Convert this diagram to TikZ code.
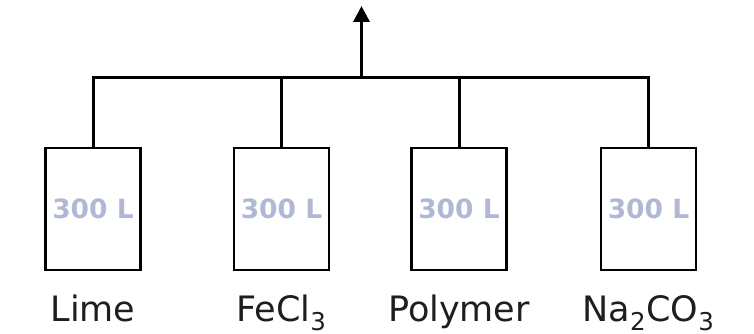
\documentclass[tikz,border=0pt]{standalone}
\usepackage{fontspec}
\setmainfont{DejaVu Sans}
\usetikzlibrary{arrows.meta}
\definecolor{TankText}{RGB}{176,184,214}
\definecolor{LabelGray}{RGB}{30,30,30}

\begin{document}
\begin{tikzpicture}[x=1pt, y=-1pt,
      tank/.style={rectangle, draw=black, line width=2.2pt, minimum width=95pt,
                   minimum height=122pt, inner sep=0pt, text=TankText,
                   font=\fontsize{26.5}{30}\selectfont\bfseries},
      chem/.style={anchor=base, text=LabelGray, inner sep=0pt,
                   font=\fontsize{35}{40}\selectfont},
      pipe/.style={line width=3pt}
    ]
    \useasboundingbox (0,0) rectangle (754,334);

    % Dosing tanks
    \node[tank] (lime)  at (93,  209) {300 L};
    \node[tank] (fecl)  at (281.5, 209) {300 L};
    \node[tank] (poly)  at (459, 209) {300 L};
    \node[tank] (soda)  at (648.5, 209) {300 L};

    % Chemical names
    \node[chem] (limelbl) at (93,  321) {Lime};
    \node[chem] (fecllbl) at (281.5, 321) {FeCl\textsubscript{3}};
    \node[chem] (polylbl) at (459, 321) {Polymer};
    \node[chem] (sodalbl) at (648.5, 321) {Na\textsubscript{2}CO\textsubscript{3}};

    % Common header and outlet
    \coordinate (bus) at (361.5, 78);
    \coordinate (out) at (361.5, 6);
    \draw[pipe] (lime.north) |- (bus) -| (soda.north);
    \draw[pipe] (fecl.north) -- (fecl.north |- bus);
    \draw[pipe] (poly.north) -- (poly.north |- bus);
    \draw[pipe, line width=3.5pt, -{Triangle[length=16pt, width=16pt]}] (bus) -- (out);
  \end{tikzpicture}
\end{document}
